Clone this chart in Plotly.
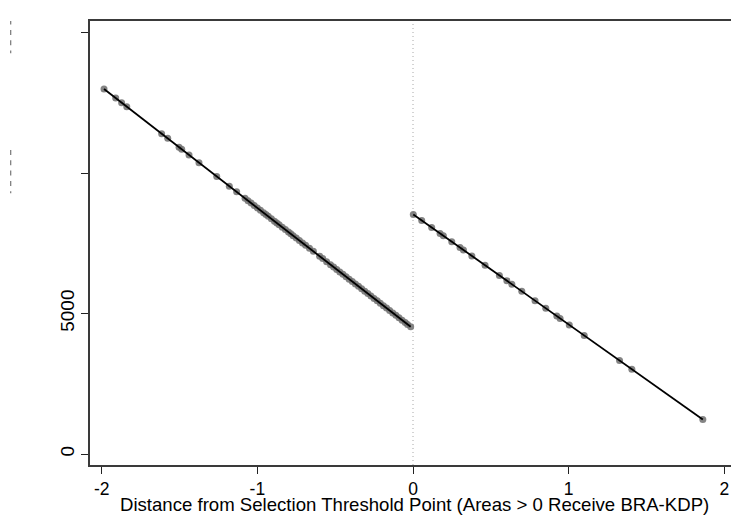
import plotly.graph_objects as go

# Fitted outcome on each side of the selection threshold
left_x = [-1.985, -1.91, -1.872, -1.839, -1.615, -1.576, -1.503, -1.486, -1.439, -1.375,
          -1.261, -1.18, -1.133, -1.079, -1.06, -1.04, -1.02, -1.0, -0.98, -0.96,
          -0.945, -0.93, -0.91, -0.89, -0.875, -0.86, -0.84, -0.82, -0.80, -0.785,
          -0.77, -0.75, -0.73, -0.71, -0.69, -0.665, -0.64, -0.60, -0.58, -0.555,
          -0.53, -0.51, -0.49, -0.47, -0.45, -0.43, -0.41, -0.39, -0.37, -0.35,
          -0.33, -0.31, -0.29, -0.27, -0.25, -0.23, -0.21, -0.19, -0.17, -0.15,
          -0.13, -0.11, -0.09, -0.07, -0.05, -0.035, -0.015]
left_y = [12990, 12667, 12504, 12362, 11400, 11233, 10919, 10846, 10644, 10369,
          9879, 9531, 9329, 9097, 9016, 8930, 8844, 8758, 8672, 8586,
          8522, 8457, 8371, 8285, 8221, 8157, 8071, 7985, 7899, 7834,
          7770, 7684, 7598, 7512, 7426, 7319, 7211, 7040, 6954, 6846,
          6739, 6653, 6567, 6481, 6395, 6309, 6223, 6137, 6052, 5966,
          5880, 5794, 5708, 5622, 5536, 5450, 5364, 5278, 5192, 5106,
          5020, 4935, 4849, 4763, 4677, 4612, 4526]

right_x = [0.002, 0.056, 0.12, 0.174, 0.195, 0.249, 0.302, 0.324, 0.378, 0.463,
           0.555, 0.603, 0.635, 0.699, 0.784, 0.853, 0.924, 0.945, 1.004, 1.10,
           1.327, 1.406, 1.862]
right_y = [8526, 8314, 8063, 7851, 7769, 7557, 7349, 7262, 7050, 6717,
           6356, 6167, 6042, 5790, 5457, 5186, 4907, 4825, 4593, 4217,
           3326, 3015, 1226]

x_ticks = [-2, -1, 0, 1, 2]
y_ticks = [0, 5000, 10000, 15000]
y_ticktext = ["0", "5000", "", ""]
x_title = "Distance from Selection Threshold Point (Areas > 0 Receive BRA-KDP)"

FONT = "Liberation Sans, Arial, sans-serif"
FS = 19
W, H = 731, 518
ML, MT, MB, MR = 90, 21, 53, 0
PLOT_H = H - MT - MB

fig = go.Figure()

for xs, ys in [(left_x, left_y), (right_x, right_y)]:
    fig.add_trace(go.Scatter(
        x=xs, y=ys, mode="markers",
        marker=dict(size=7, color="rgba(110,110,110,0.85)", line=dict(width=0)),
        showlegend=False, hoverinfo="skip"))
for xs, ys in [(left_x, left_y), (right_x, right_y)]:
    fig.add_trace(go.Scatter(
        x=xs, y=ys, mode="lines",
        line=dict(color="black", width=1.8),
        showlegend=False, hoverinfo="skip"))

# threshold marker
fig.add_shape(type="line", xref="x", yref="paper", x0=0, x1=0, y0=0, y1=1,
              line=dict(color="#a8a8a8", width=1, dash="1px,3px"), layer="below")

# faint marks left of the upper y ticks
px_per_unit_y = 140.5 / 5000
for top, bot in [(9.3, 53.3), (150.0, 193.3)]:
    y0 = (454 - bot) / px_per_unit_y
    y1 = (454 - top) / px_per_unit_y
    fig.add_shape(type="line", xref="paper", yref="y",
                  x0=(10.7 - ML) / (W - ML - MR), x1=(10.7 - ML) / (W - ML - MR),
                  y0=y1, y1=y0,
                  line=dict(color="#777777", width=1.2, dash="5px,5.3px"))

fig.update_layout(
    width=W, height=H,
    margin=dict(l=ML, r=MR, t=MT, b=MB, pad=0),
    paper_bgcolor="white", plot_bgcolor="white",
    font=dict(family=FONT, size=FS, color="black"),
    showlegend=False,
    annotations=[dict(text=x_title, xref="paper", yref="paper",
                      x=(414 - ML) / (W - ML - MR), y=-(H - 1 - (H - MB)) / PLOT_H,
                      xanchor="center", yanchor="bottom", showarrow=False,
                      font=dict(family=FONT, size=18.6, color="black"))],
)

fig.update_xaxes(
    range=[(ML - 413) / 155.65, (W - 413) / 155.65],
    tickvals=x_ticks, ticktext=[str(v) for v in x_ticks],
    showgrid=False, zeroline=False,
    showline=True, linecolor="#3a3a3a", linewidth=1.6, mirror=True,
    ticks="outside", ticklen=7, tickwidth=1.2, tickcolor="#222",
    tickfont=dict(family=FONT, size=17.5),
)
fig.update_yaxes(
    range=[(454 - (H - MB)) / px_per_unit_y, (454 - MT) / px_per_unit_y],
    tickvals=y_ticks, ticktext=y_ticktext, tickangle=-90,
    showgrid=False, zeroline=False,
    showline=True, linecolor="#3a3a3a", linewidth=1.6,
    ticks="outside", ticklen=7, tickwidth=1.2, tickcolor="#222",
    tickfont=dict(family=FONT, size=FS),
)

fig.write_html("out.html")
